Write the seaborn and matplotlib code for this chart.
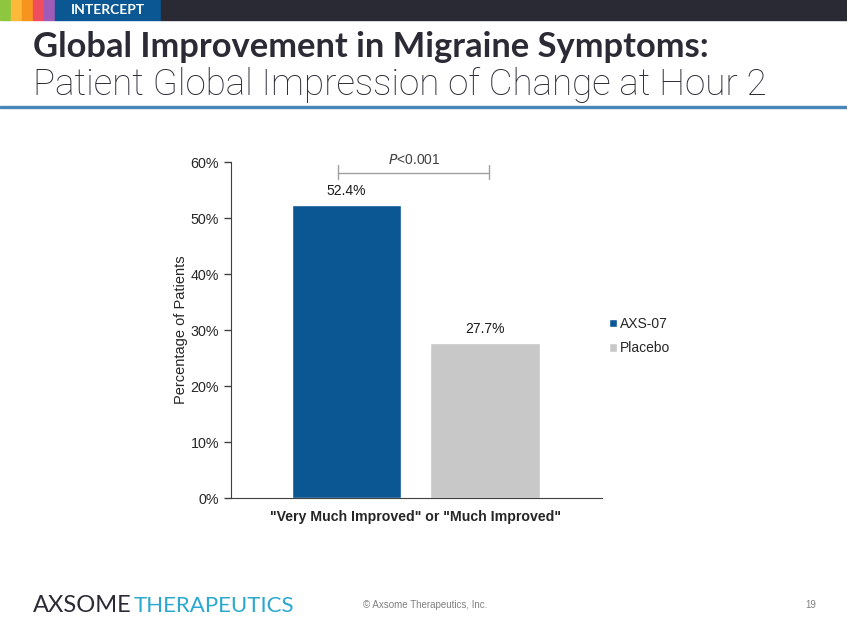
import seaborn as sns
import matplotlib.pyplot as plt
import pandas as pd
from matplotlib.patches import Rectangle

groups = ["AXS-07", "Placebo"]
values = [52.4, 27.7]
category = '"Very Much Improved" or "Much Improved"'
colors = ["#0A5794", "#C8C8C8"]
yticks = [0, 10, 20, 30, 40, 50, 60]

df = pd.DataFrame({"cat": [category] * 2, "group": groups, "pct": values})

sns.set_style("white")
plt.rcParams['font.family'] = ['Liberation Sans', 'DejaVu Sans']

fig = plt.figure(figsize=(8.47, 6.35), dpi=100)

# header band
strip = ["#8DC63F", "#FDB93A", "#F7941D", "#F04E5E", "#9E5BB8"]
for i, c in enumerate(strip):
    fig.patches.append(Rectangle((i * 11 / 847, 1 - 20 / 635), 11 / 847, 20 / 635,
                                 transform=fig.transFigure, color=c))
fig.patches.append(Rectangle((55 / 847, 1 - 20 / 635), 106 / 847, 20 / 635,
                             transform=fig.transFigure, color="#0A5794"))
fig.patches.append(Rectangle((161 / 847, 1 - 20 / 635), 686 / 847, 20 / 635,
                             transform=fig.transFigure, color="#2A2A34"))
fig.text(108 / 847, 1 - 10 / 635, "INTERCEPT", color="white", fontsize=10,
         fontweight="bold", ha="center", va="center", family="Lato")

# title
fig.text(33 / 847, 1 - 47 / 635, "Global Improvement in Migraine Symptoms:",
         fontsize=24.8, fontweight="bold", color="#2B2B36", va="center", family="Lato")
fig.text(33 / 847, 1 - 85 / 635, "Patient Global Impression of Change at Hour 2",
         fontsize=26.5, fontweight="light", color="#2B2B36", va="center", family="Roboto")
fig.patches.append(Rectangle((0, 1 - 108 / 635), 1, 2 / 635,
                             transform=fig.transFigure, color="#4A86B8"))

# footer
fig.text(33 / 847, 1 - 606 / 635, "AXSOME", fontsize=17, color="#2B2B36",
         va="center", family="Lato")
fig.text(134 / 847, 1 - 606 / 635, "THERAPEUTICS", fontsize=16, color="#2AA8D0",
         va="center", family="Lato")
fig.text(363 / 847, 1 - 605 / 635, "\u00a9 Axsome Therapeutics, Inc.", fontsize=7,
         color="#808080", va="center")
fig.text(816 / 847, 1 - 605 / 635, "19", fontsize=7, color="#808080",
         va="center", ha="right")

ax = fig.add_axes([231 / 847, 1 - 498 / 635, 371 / 847, 336 / 635])
sns.barplot(data=df, x="cat", y="pct", hue="group", palette=colors,
            gap=0.21, ax=ax, saturation=1)

for cont in ax.containers:
    ax.bar_label(cont, fmt="%.1f%%", padding=5, fontsize=10, color="#1A1A1A")

ax.set_xlim(-0.534, 0.538)
ax.set_ylim(0, 60)
ax.set_yticks(yticks)
ax.set_yticklabels([f"{t}%" for t in yticks], fontsize=10.3)
ax.tick_params(axis="y", length=5, width=1, color="#404040", direction="out", left=True)
ax.tick_params(axis="x", length=0, labelsize=10.2, pad=9)
for lab in ax.get_xticklabels():
    lab.set_fontweight("bold")
ax.set_xlabel("")
ax.set_ylabel("Percentage of Patients", fontsize=10.5, labelpad=2)
sns.despine(ax=ax)
ax.spines["left"].set_color("#404040")
ax.spines["bottom"].set_color("#404040")

# significance bracket
ax.plot([-0.225, 0.211], [58, 58], color="#A0A0A0", lw=1, clip_on=False)
for xb in [-0.225, 0.211]:
    ax.plot([xb, xb], [57, 59.4], color="#A0A0A0", lw=1, clip_on=False)
ax.text(-0.005, 60.4, r"$\it{P}$<0.001", ha="center", va="center",
        fontsize=10, color="#404040")

handles, labels = ax.get_legend_handles_labels()
ax.legend(handles, labels, loc="center left", bbox_to_anchor=(0.985, 0.482),
          frameon=False, handlelength=0.6, handleheight=0.6, handletextpad=0.2,
          labelspacing=0.75, fontsize=10)

fig.savefig("out.png", dpi=100)
